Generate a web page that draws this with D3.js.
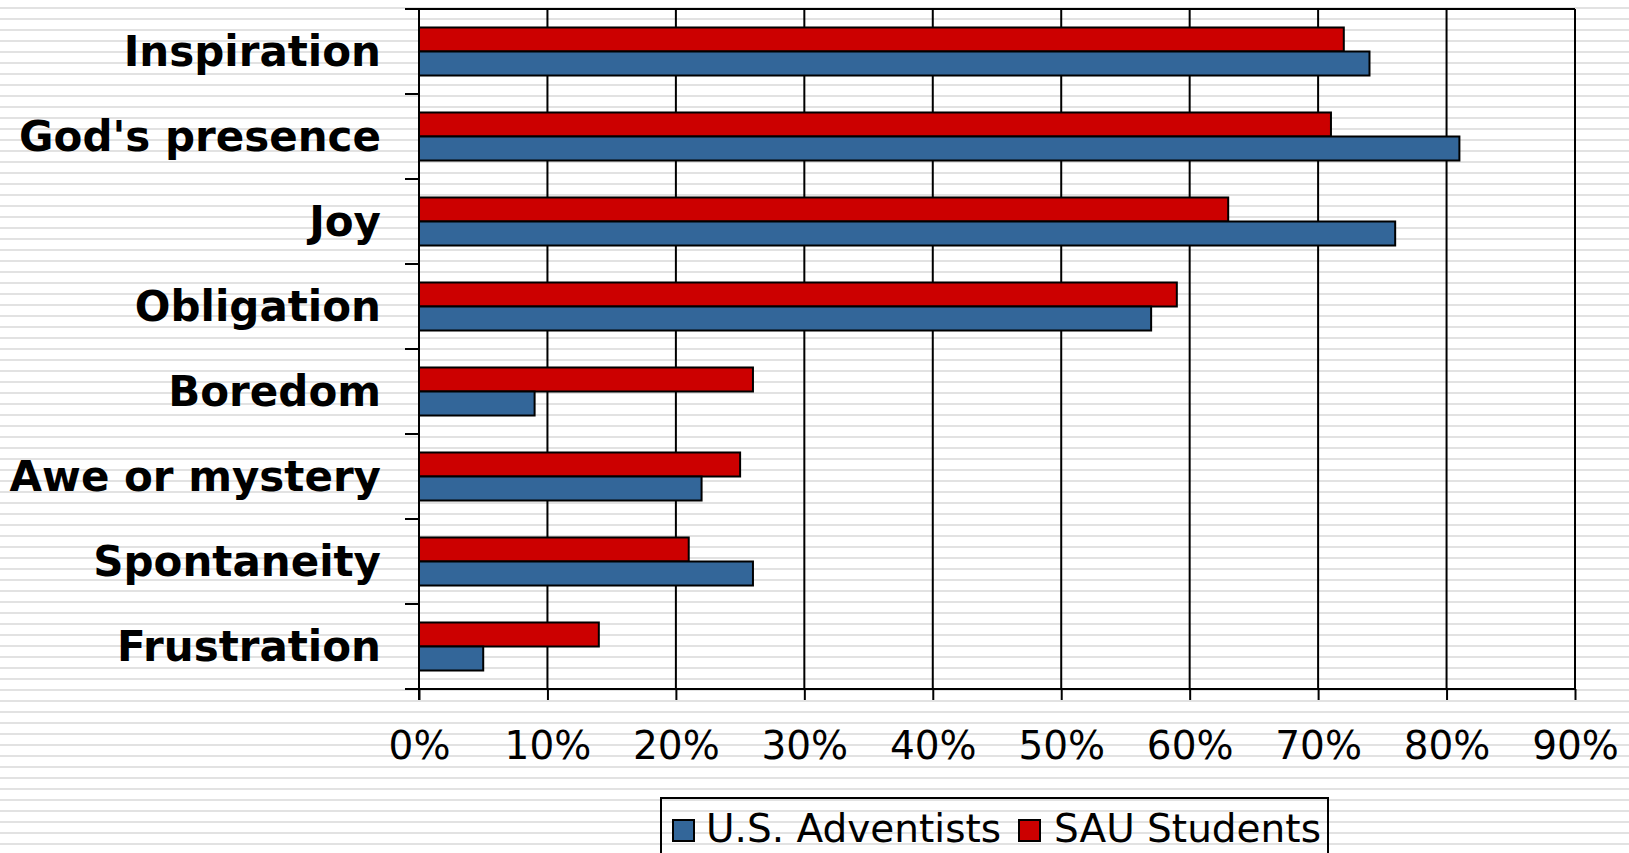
<!DOCTYPE html>
<html>
<head>
<meta charset="utf-8">
<script src="https://cdn.jsdelivr.net/npm/d3@7"></script>
<style>
html,body{margin:0;padding:0;background:#fff;overflow:hidden;}
svg{display:block;}
</style>
</head>
<body>
<svg id="chart" width="1629" height="853"></svg>
<script>
const categories = ["Inspiration","God's presence","Joy","Obligation","Boredom","Awe or mystery","Spontaneity","Frustration"];
const usAdventists = [74,81,76,57,9,22,26,5];
const sauStudents = [72,71,63,59,26,25,21,14];
const seriesNames = ["SAU Students","U.S. Adventists"];
const legendOrder = ["U.S. Adventists","SAU Students"];
const xTickValues = [0,10,20,30,40,50,60,70,80,90];

const colors = {"U.S. Adventists":"#336699","SAU Students":"#CC0000"};
const W = 1629, H = 853;
const plot = {left:419, right:1575, top:9, bottom:689};

const svg = d3.select("#chart");
const defs = svg.append("defs");
const pat = defs.append("pattern").attr("id","stripes").attr("patternUnits","userSpaceOnUse")
  .attr("width",20).attr("height",11);
pat.append("rect").attr("width",20).attr("height",11).attr("fill","#ffffff");
pat.append("rect").attr("y",7).attr("width",20).attr("height",2).attr("fill","#e2e2e2");
svg.append("rect").attr("width",W).attr("height",H).attr("fill","url(#stripes)");

const x = d3.scaleLinear().domain([0,90]).range([plot.left, plot.right]);
const y = d3.scaleBand().domain(categories).range([plot.top, plot.bottom]).paddingInner(0).paddingOuter(0);
const ys = d3.scaleBand().domain(seriesNames).range([0, y.bandwidth()]).paddingInner(0).paddingOuter(0.77);

const rows = categories.map((c,i)=>({cat:c, values:[
  {series:"SAU Students", v:sauStudents[i]},
  {series:"U.S. Adventists", v:usAdventists[i]}
]}));

// gridlines
svg.append("g").selectAll("line").data(xTickValues.slice(1)).join("line")
  .attr("x1",d=>x(d)).attr("x2",d=>x(d)).attr("y1",plot.top).attr("y2",plot.bottom)
  .attr("stroke","#000").attr("stroke-width",2);
// top border
svg.append("line").attr("x1",plot.left).attr("x2",plot.right).attr("y1",plot.top).attr("y2",plot.top)
  .attr("stroke","#000").attr("stroke-width",2);

// bars
const g = svg.append("g").selectAll("g").data(rows).join("g")
  .attr("transform",d=>`translate(0,${y(d.cat)})`);
g.selectAll("rect").data(d=>d.values).join("rect")
  .attr("x",x(0)).attr("y",d=>ys(d.series))
  .attr("width",d=>x(d.v)-x(0)).attr("height",ys.bandwidth())
  .attr("fill",d=>colors[d.series]).attr("stroke","#000").attr("stroke-width",2);

// x axis
const xAxis = d3.axisBottom(x).tickValues(xTickValues).tickFormat(d=>d+"%").tickSizeInner(11).tickSizeOuter(0).tickPadding(31);
const gx = svg.append("g").attr("transform",`translate(0,${plot.bottom})`).call(xAxis);
gx.select(".domain").attr("stroke","#000").attr("stroke-width",2).attr("d",`M${plot.left-14},0H${plot.right}`);
gx.selectAll(".tick line").attr("stroke","#000").attr("stroke-width",2);
gx.selectAll(".tick text").attr("fill","#000").attr("font-family","'DejaVu Sans', Verdana, sans-serif")
  .attr("font-size","39px").attr("dy","0.71em");

// y axis with ticks at category boundaries
const boundaries = categories.map(c=>y(c)).concat([plot.bottom]);
svg.append("line").attr("x1",plot.left).attr("x2",plot.left).attr("y1",plot.top).attr("y2",plot.bottom+11)
  .attr("stroke","#000").attr("stroke-width",2);
svg.append("g").selectAll("line").data(boundaries).join("line")
  .attr("x1",plot.left-14).attr("x2",plot.left).attr("y1",d=>d).attr("y2",d=>d)
  .attr("stroke","#000").attr("stroke-width",2);

// category labels
svg.append("g").selectAll("text").data(categories).join("text")
  .attr("x",381).attr("y",d=>y(d)+y.bandwidth()/2+14)
  .attr("text-anchor","end").attr("font-family","'DejaVu Sans', Verdana, sans-serif")
  .attr("font-weight","bold").attr("font-size","42px").attr("fill","#000").text(d=>d);

// legend
const lg = svg.append("g");
lg.append("rect").attr("x",661).attr("y",798).attr("width",667).attr("height",80)
  .attr("fill","none").attr("stroke","#000").attr("stroke-width",2);
const legX = [673, 1019];
const textX = [706, 1054];
legendOrder.forEach((s,i)=>{
  lg.append("rect").attr("x",legX[i]).attr("y",820).attr("width",21).attr("height",21)
    .attr("fill",colors[s]).attr("stroke","#000").attr("stroke-width",2);
  lg.append("text").attr("x",textX[i]).attr("y",842).attr("font-family","'DejaVu Sans', Verdana, sans-serif")
    .attr("font-size","39px").attr("fill","#000").text(s);
});
</script>
</body>
</html>
